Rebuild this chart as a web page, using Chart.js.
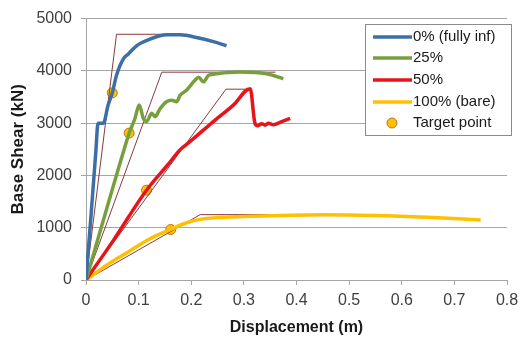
<!DOCTYPE html>
<html>
<head>
<meta charset="utf-8">
<script src="https://cdn.jsdelivr.net/npm/chart.js@4"></script>
<style>
  html, body { margin: 0; padding: 0; background: #fff; }
  #wrap { width: 528px; height: 340px; }
</style>
</head>
<body>
<div id="wrap"><canvas id="chart" width="528" height="340"></canvas></div>
<script>
// curves
const infill0X = [0, 0.010, 0.019, 0.022, 0.024, 0.033, 0.042, 0.050, 0.058, 0.071, 0.080, 0.096, 0.122, 0.153, 0.179, 0.210, 0.242, 0.267];
const infill0Y = [0, 1300, 2500, 2950, 3000, 3000, 3346, 3580, 3915, 4230, 4320, 4480, 4610, 4690, 4690, 4640, 4560, 4480];

const infill25X = [0, 0.077, 0.082, 0.093, 0.101, 0.109, 0.115, 0.125, 0.131, 0.141, 0.153, 0.163, 0.172, 0.179, 0.191, 0.207, 0.214, 0.223, 0.233, 0.248, 0.270, 0.293, 0.343, 0.375];
const infill25Y = [0, 2650, 2810, 3090, 3346, 3090, 3030, 3190, 3125, 3280, 3410, 3440, 3410, 3535, 3630, 3820, 3880, 3790, 3915, 3945, 3970, 3977, 3945, 3850];

const infill50X = [0, 0.052, 0.115, 0.156, 0.179, 0.198, 0.242, 0.280, 0.312, 0.321, 0.326, 0.334, 0.340, 0.347, 0.356, 0.372, 0.388];
const infill50Y = [0, 758, 1718, 2210, 2494, 2650, 3030, 3345, 3660, 3000, 2950, 2990, 2960, 3000, 2970, 3030, 3090];

const bareX = [0, 0.040, 0.084, 0.120, 0.161, 0.190, 0.217, 0.250, 0.300, 0.370, 0.450, 0.550, 0.650, 0.750];
const bareY = [0, 290, 560, 780, 966, 1090, 1160, 1195, 1215, 1235, 1250, 1235, 1200, 1150];

// bilinear idealisations (thin lines)
const bi0X = [0, 0.058, 0.18],  bi0Y = [0, 4700, 4700];
const bi25X = [0, 0.144, 0.36], bi25Y = [0, 3975, 3975];
const bi50X = [0, 0.266, 0.309], bi50Y = [0, 3650, 3650];
const biBareX = [0, 0.217, 0.448], biBareY = [0, 1250, 1250];

const targetX = [0.050, 0.082, 0.115, 0.161];
const targetY = [3580, 2810, 1718, 966];

const seriesLabels = ["0% (fully inf)", "25%", "50%", "100% (bare)", "Target point"];
const seriesColors = ["#3d6ea5", "#77a03c", "#e8141b", "#ffc000"];

const pts = (xs, ys) => xs.map((x, i) => ({ x: x, y: ys[i] }));

const curve = (label, xs, ys, color) => ({
  label: label,
  data: pts(xs, ys),
  showLine: true,
  borderColor: color,
  backgroundColor: color,
  borderWidth: 3.5,
  pointRadius: 0,
  cubicInterpolationMode: "monotone",
  fill: false,
});

const bilin = (xs, ys) => ({
  label: "",
  data: pts(xs, ys),
  showLine: true,
  borderColor: "#8b3a3a",
  borderWidth: 1,
  pointRadius: 0,
  tension: 0,
  fill: false,
});

// legend drawn inside the plot, top right
const boxLegend = {
  id: "boxLegend",
  afterDraw(chart) {
    const c = chart.ctx;
    const x0 = 365, y0 = 24, w = 146, h = 111;
    c.save();
    c.fillStyle = "#fff";
    c.fillRect(x0, y0, w, h);
    c.strokeStyle = "#8c8c8c";
    c.lineWidth = 1;
    c.strokeRect(x0 + 0.5, y0 + 0.5, w, h);
    const rows = [37, 58, 80, 102, 123];
    c.font = "15px 'Liberation Sans', sans-serif";
    c.textBaseline = "middle";
    c.fillStyle = "#1a1a1a";
    rows.forEach((ry, i) => {
      if (i < 4) {
        c.strokeStyle = seriesColors[i];
        c.lineWidth = 3.5;
        c.beginPath();
        c.moveTo(373, ry);
        c.lineTo(412, ry);
        c.stroke();
      } else {
        c.beginPath();
        c.arc(392, ry, 5, 0, Math.PI * 2);
        c.fillStyle = "#ffc000";
        c.fill();
        c.strokeStyle = "#b8752a";
        c.lineWidth = 1;
        c.stroke();
        c.fillStyle = "#1a1a1a";
      }
      c.fillText(seriesLabels[i], 413, ry);
    });
    c.restore();
  },
};

new Chart(document.getElementById("chart"), {
  type: "scatter",
  data: {
    datasets: [
      curve(seriesLabels[0], infill0X, infill0Y, seriesColors[0]),
      curve(seriesLabels[1], infill25X, infill25Y, seriesColors[1]),
      curve(seriesLabels[2], infill50X, infill50Y, seriesColors[2]),
      curve(seriesLabels[3], bareX, bareY, seriesColors[3]),
      bilin(bi0X, bi0Y),
      bilin(bi25X, bi25Y),
      bilin(bi50X, bi50Y),
      bilin(biBareX, biBareY),
      {
        label: seriesLabels[4],
        data: pts(targetX, targetY),
        showLine: false,
        pointRadius: 5,
        pointBackgroundColor: "#ffc000",
        pointBorderColor: "#b8752a",
        pointBorderWidth: 1,
      },
    ],
  },
  options: {
    responsive: false,
    animation: false,
    layout: { padding: { top: 16, right: 21, bottom: 0, left: 0 } },
    plugins: {
      legend: { display: false },
      tooltip: { enabled: false },
    },
    scales: {
      x: {
        type: "linear",
        min: 0,
        max: 0.8,
        afterFit: (s) => { s.height = 60; },
        ticks: {
          stepSize: 0.1,
          color: "#404040",
          padding: 6,
          font: { family: "'Liberation Sans', sans-serif", size: 16 },
          callback: (v) => (Math.round(v * 10) / 10).toString(),
        },
        grid: { drawOnChartArea: false, color: "#a6a6a6", tickLength: 5 },
        border: { color: "#a6a6a6" },
        title: {
          display: true,
          text: "Displacement (m)",
          color: "#1a1a1a",
          padding: { top: 0, bottom: 3 },
          font: { family: "'Liberation Sans', sans-serif", size: 16, weight: "bold" },
        },
      },
      y: {
        min: 0,
        max: 5000,
        afterFit: (s) => { s.width = 86; },
        ticks: {
          stepSize: 1000,
          color: "#404040",
          padding: 9,
          font: { family: "'Liberation Sans', sans-serif", size: 16 },
          callback: (v) => String(v),
        },
        grid: { color: "#a6a6a6", tickLength: 5 },
        border: { color: "#a6a6a6" },
        title: {
          display: true,
          text: "Base Shear (kN)",
          color: "#1a1a1a",
          padding: { top: 8, bottom: 0 },
          font: { family: "'Liberation Sans', sans-serif", size: 17, weight: "bold" },
        },
      },
    },
  },
  plugins: [boxLegend],
});
</script>
</body>
</html>
